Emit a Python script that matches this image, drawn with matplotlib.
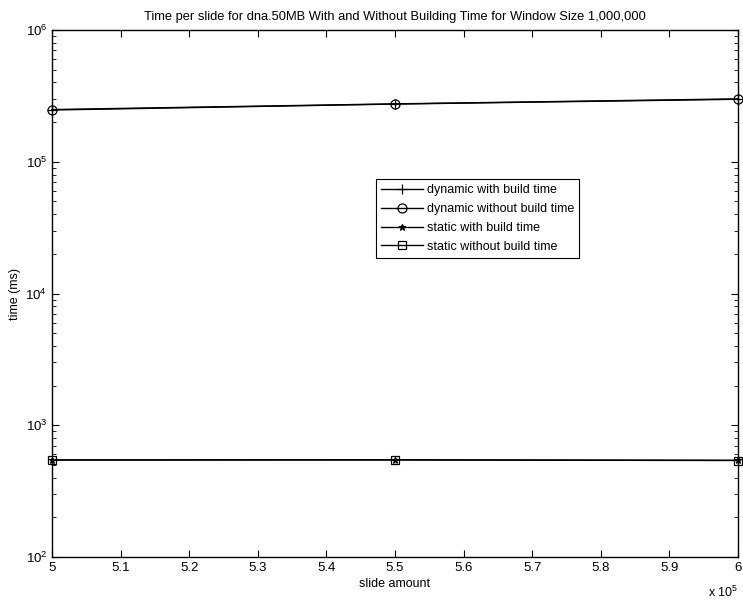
import matplotlib
matplotlib.use("Agg")
import matplotlib.pyplot as plt
from matplotlib.ticker import FixedLocator, FuncFormatter, LogLocator, NullFormatter

plt.rcParams['font.family'] = ['Liberation Sans', 'DejaVu Sans']
plt.rcParams['mathtext.fontset'] = 'custom'
plt.rcParams['mathtext.rm'] = 'Liberation Sans'
plt.rcParams['mathtext.it'] = 'Liberation Sans'

slide_amount = [500000, 550000, 600000]
dynamic_with_build = [249000, 275000, 300000]
dynamic_without_build = [247000, 274000, 298000]
static_with_build = [546, 547, 542]
static_without_build = [544, 545, 540]
x_ticks = [500000, 510000, 520000, 530000, 540000, 550000, 560000, 570000, 580000, 590000, 600000]

fig = plt.figure(figsize=(7.43, 6.01), dpi=100)
ax = fig.add_axes([52/743, 44/601, 686/743, 527/601])

common = dict(color='black', lw=1, clip_on=False, mew=0.9)
ax.plot(slide_amount, dynamic_with_build, marker='+', ms=7, label='dynamic with build time', **common)
ax.plot(slide_amount, dynamic_without_build, marker='o', ms=6.5, mfc='none', label='dynamic without build time', **common)
ax.plot(slide_amount, static_with_build, marker='*', ms=5, label='static with build time', **common)
ax.plot(slide_amount, static_without_build, marker='s', ms=5.5, mfc='none', label='static without build time', **common)

ax.set_yscale('log')
ax.set_ylim(1e2, 1e6)
ax.set_xlim(500000, 600000)
ax.xaxis.set_major_locator(FixedLocator(x_ticks))
ax.xaxis.set_major_formatter(FuncFormatter(lambda v, p: ('%g' % (v / 1e5))))
ax.yaxis.set_major_locator(LogLocator(base=10, numticks=10))
ax.yaxis.set_minor_locator(LogLocator(base=10, subs=range(2, 10), numticks=20))
ax.yaxis.set_minor_formatter(NullFormatter())

ax.tick_params(which='both', direction='in', top=True, right=True, labelsize=9.5)
ax.tick_params(which='major', length=5)
ax.tick_params(which='minor', length=3)
for s in ax.spines.values():
    s.set_linewidth(1)

ax.set_title('Time per slide for dna.50MB With and Without Building Time for Window Size 1,000,000', fontsize=9.3, pad=7)
ax.set_xlabel('slide amount', fontsize=9, labelpad=3)
ax.set_ylabel('time (ms)', fontsize=9, labelpad=3)
ax.text(1.0, -0.052, r'x 10$^5$', transform=ax.transAxes, ha='right', va='top', fontsize=9)

leg = ax.legend(loc='upper left', bbox_to_anchor=(0.472, 0.717), fontsize=9, frameon=True, fancybox=False,
                edgecolor='black', framealpha=1, handlelength=3.4, borderpad=0.4, labelspacing=0.55,
                handletextpad=0.3, borderaxespad=0)
leg.get_frame().set_linewidth(0.8)

fig.savefig('out.png', dpi=100)
